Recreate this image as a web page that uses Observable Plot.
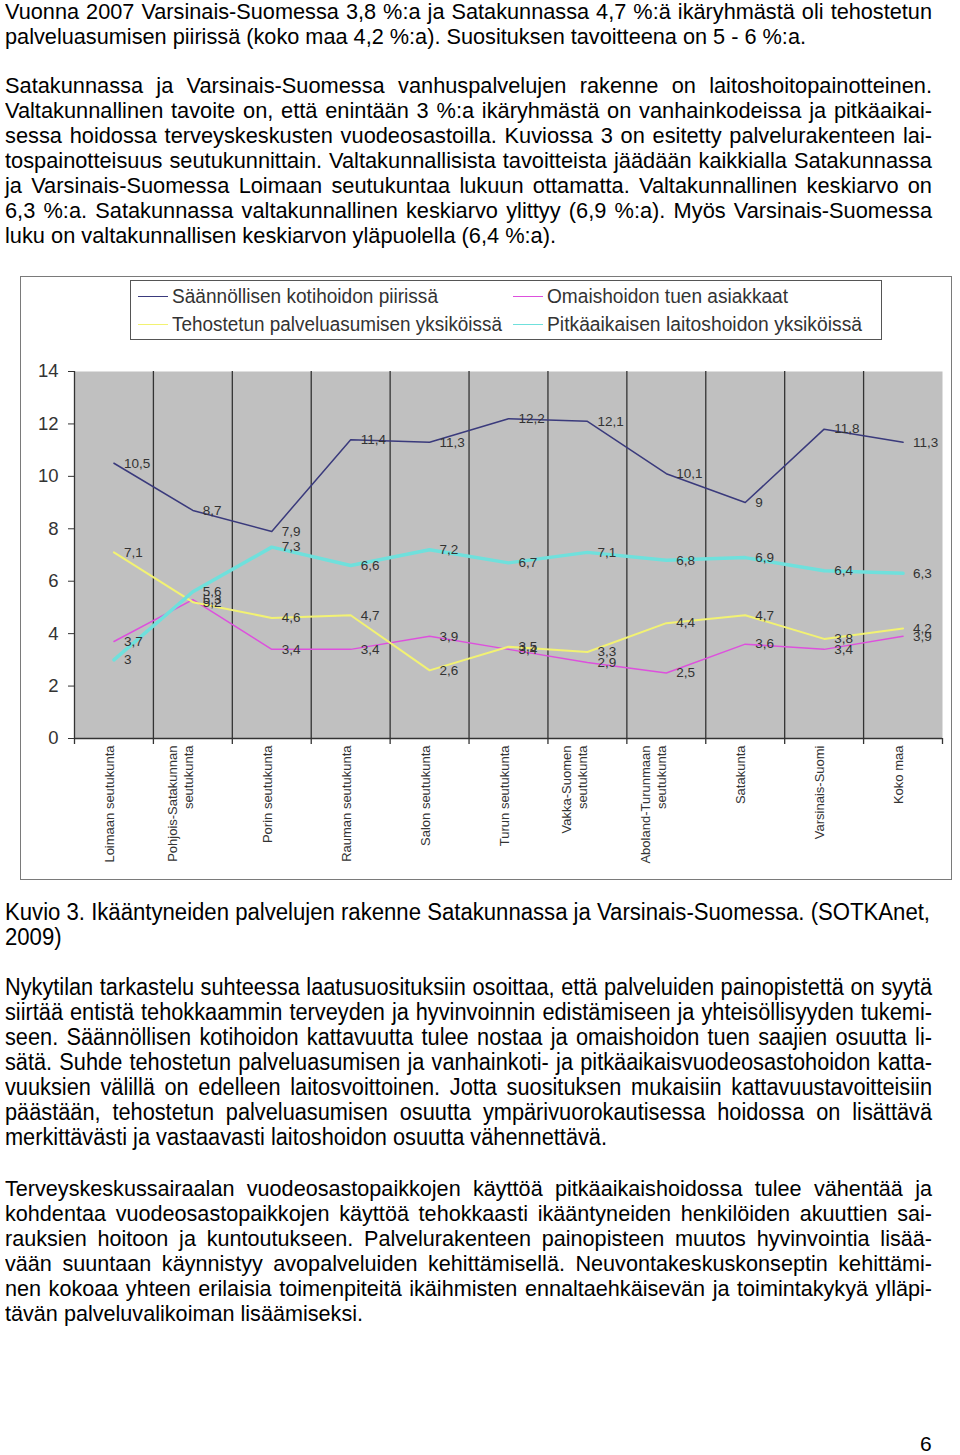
<!DOCTYPE html>
<html>
<head>
<meta charset="utf-8">
<script src="https://cdn.jsdelivr.net/npm/d3@7"></script>
<script src="https://cdn.jsdelivr.net/npm/@observablehq/plot@0.6"></script>
<style>
  body { margin: 0; background: #fff; }
  #page { position: relative; width: 960px; height: 1455px; overflow: hidden; font-family: "Liberation Sans", Arial, sans-serif; color: #000; }
  .ln { position: absolute; left: 5px; white-space: nowrap; font-size: 22px; line-height: 25px; transform-origin: 0 0; }
  .narrow { font-family: "Liberation Sans Narrow", "Liberation Sans", Arial, sans-serif; font-size: 23px; }
  #frame { position: absolute; left: 20px; top: 276px; width: 930px; height: 602px; border: 1px solid #7a7a7a; background: #fff; }
  #frame svg { display: block; }
  #legend { position: absolute; left: 130px; top: 280px; width: 752px; height: 60px; box-sizing: border-box; border: 1px solid #555; background: #fff; z-index: 2; }
  .lgline { position: absolute; height: 0; border-top: 1.5px solid; z-index: 3; }
  .lgtext { position: absolute; white-space: nowrap; font-size: 20px; line-height: 22px; color: #333; transform-origin: 0 0; z-index: 3; }
  #pagenum { position: absolute; left: 920px; font-size: 21px; line-height: 25px; }
</style>
</head>
<body>
<div id="page"></div>
<script>
// ---------- chart data ----------
const categories = [
  "Loimaan seutukunta",
  "Pohjois-Satakunnan\nseutukunta",
  "Porin seutukunta",
  "Rauman seutukunta",
  "Salon seutukunta",
  "Turun seutukunta",
  "Vakka-Suomen\nseutukunta",
  "Aboland-Turunmaan\nseutukunta",
  "Satakunta",
  "Varsinais-Suomi",
  "Koko maa"
];
const kotihoito     = [10.5, 8.7, 7.9, 11.4, 11.3, 12.2, 12.1, 10.1, 9, 11.8, 11.3];
const omaishoito    = [3.7, 5.3, 3.4, 3.4, 3.9, 3.4, 2.9, 2.5, 3.6, 3.4, 3.9];
const tehostettu    = [7.1, 5.2, 4.6, 4.7, 2.6, 3.5, 3.3, 4.4, 4.7, 3.8, 4.2];
const pitkaaikainen = [3, 5.6, 7.3, 6.6, 7.2, 6.7, 7.1, 6.8, 6.9, 6.4, 6.3];
const seriesNames = [
  "Säännöllisen kotihoidon piirissä",
  "Omaishoidon tuen asiakkaat",
  "Tehostetun palveluasumisen yksiköissä",
  "Pitkäaikaisen laitoshoidon yksiköissä"
];
const seriesColors = ["#3a3a7c", "#dd50dd", "#f2f272", "#6fe0dc"];
const seriesWidths = [1.5, 1.5, 2, 3.5];
const yTicks = [0, 2, 4, 6, 8, 10, 12, 14];

// ---------- page text ----------
const para1 = [
  "Vuonna 2007 Varsinais-Suomessa 3,8 %:a ja Satakunnassa 4,7 %:ä ikäryhmästä oli tehostetun",
  "palveluasumisen piirissä (koko maa 4,2 %:a). Suosituksen tavoitteena on 5 - 6 %:a."
];
const para2 = [
  "Satakunnassa ja Varsinais-Suomessa vanhuspalvelujen rakenne on laitoshoitopainotteinen.",
  "Valtakunnallinen tavoite on, että enintään 3 %:a ikäryhmästä on vanhainkodeissa ja pitkäaikai-",
  "sessa hoidossa terveyskeskusten vuodeosastoilla. Kuviossa 3 on esitetty palvelurakenteen lai-",
  "tospainotteisuus seutukunnittain. Valtakunnallisista tavoitteista jäädään kaikkialla Satakunnassa",
  "ja Varsinais-Suomessa Loimaan seutukuntaa lukuun ottamatta. Valtakunnallinen keskiarvo on",
  "6,3 %:a. Satakunnassa valtakunnallinen keskiarvo ylittyy (6,9 %:a). Myös Varsinais-Suomessa",
  "luku on valtakunnallisen keskiarvon yläpuolella (6,4 %:a)."
];
const caption = [
  "Kuvio 3. Ikääntyneiden palvelujen rakenne Satakunnassa ja Varsinais-Suomessa. (SOTKAnet,",
  "2009)"
];
const para3 = [
  "Nykytilan tarkastelu suhteessa laatusuosituksiin osoittaa, että palveluiden painopistettä on syytä",
  "siirtää entistä tehokkaammin terveyden ja hyvinvoinnin edistämiseen ja yhteisöllisyyden tukemi-",
  "seen. Säännöllisen kotihoidon kattavuutta tulee nostaa ja omaishoidon tuen saajien osuutta li-",
  "sätä. Suhde tehostetun palveluasumisen ja vanhainkoti- ja pitkäaikaisvuodeosastohoidon katta-",
  "vuuksien välillä on edelleen laitosvoittoinen. Jotta suosituksen mukaisiin kattavuustavoitteisiin",
  "päästään, tehostetun palveluasumisen osuutta ympärivuorokautisessa hoidossa on lisättävä",
  "merkittävästi ja vastaavasti laitoshoidon osuutta vähennettävä."
];
const para4 = [
  "Terveyskeskussairaalan vuodeosastopaikkojen käyttöä pitkäaikaishoidossa tulee vähentää ja",
  "kohdentaa vuodeosastopaikkojen käyttöä tehokkaasti ikääntyneiden henkilöiden akuuttien sai-",
  "rauksien hoitoon ja kuntoutukseen. Palvelurakenteen painopisteen muutos hyvinvointia lisää-",
  "vään suuntaan käynnistyy avopalveluiden kehittämisellä. Neuvontakeskuskonseptin kehittämi-",
  "nen kokoaa yhteen erilaisia toimenpiteitä ikäihmisten ennaltaehkäisevän ja toimintakykyä ylläpi-",
  "tävän palveluvalikoiman lisäämiseksi."
];

// ---------- layout ----------
const page = document.getElementById("page");
const FULL = 927;

function natural(el) { return el.getBoundingClientRect().width; }

function addParagraph(lines, firstBaseline, lastWidth, cls) {
  const els = lines.map((t, k) => {
    const el = document.createElement("div");
    el.className = "ln" + (cls ? " " + cls : "");
    el.textContent = t;
    el.style.top = (firstBaseline + 25 * k - 20) + "px";
    page.appendChild(el);
    return el;
  });
  const last = els[els.length - 1];
  let s = lastWidth / natural(last);
  if (s > 1.15) s = 1.15;
  if (s < 0.7) s = 0.7;
  els.forEach((el, k) => {
    const w = natural(el);
    if (k === els.length - 1) { el.style.transform = `scaleX(${s})`; return; }
    const spaces = (el.textContent.match(/ /g) || []).length;
    if (w * s >= FULL || spaces === 0) {
      el.style.transform = `scaleX(${FULL / w})`;
    } else {
      el.style.wordSpacing = ((FULL / s - w) / spaces) + "px";
      el.style.transform = `scaleX(${s})`;
    }
  });
}

addParagraph(para1, 19, 801);
addParagraph(para2, 93, 551);
addParagraph(para3, 995, 602, "narrow");
addParagraph(para4, 1196, 358);

// caption
(function () {
  const c1 = document.createElement("div");
  c1.className = "ln narrow"; c1.textContent = caption[0];
  c1.style.top = (920 - 20) + "px";
  page.appendChild(c1);
  const s = 925 / natural(c1);
  c1.style.transform = `scaleX(${s})`;
  const c2 = document.createElement("div");
  c2.className = "ln narrow"; c2.textContent = caption[1];
  c2.style.top = (945 - 20) + "px";
  c2.style.transform = `scaleX(${s})`;
  page.appendChild(c2);
})();

const pn = document.createElement("div");
pn.id = "pagenum"; pn.textContent = "6"; pn.style.top = (1451 - 20) + "px";
page.appendChild(pn);

// ---------- chart ----------
const n = categories.length;
const seriesValues = [kotihoito, omaishoito, tehostettu, pitkaaikainen];
const rows = [];
seriesValues.forEach((vals, k) => vals.forEach((v, i) => rows.push({i, v, k, name: seriesNames[k]})));
const fmt = v => String(v).replace(".", ",");

const chart = Plot.plot({
  width: 930,
  height: 602,
  marginLeft: 53,
  marginRight: 9,
  marginTop: 94,
  marginBottom: 141,
  style: {fontFamily: "Liberation Sans, Arial, sans-serif", fontSize: "18.5px", color: "#333", background: "#fff", overflow: "visible"},
  x: {type: "linear", domain: [-0.5, n - 0.5], axis: null},
  y: {domain: [0, 14], ticks: yTicks, tickSize: 6, tickPadding: 10, label: null, tickFormat: d => String(d)},
  marks: [
    Plot.frame({fill: "#c0c0c0", stroke: "none"}),
    Plot.ruleX(d3.range(0, n).map(k => k - 0.5), {stroke: "#333", strokeWidth: 1.3, insetBottom: -6}),
    Plot.ruleX([n - 0.5], {y1: 0, y2: 0, stroke: "#333", strokeWidth: 1.3, insetBottom: -6}),
    Plot.ruleY([0], {stroke: "#333", strokeWidth: 1.3}),
    ...seriesValues.map((vals, k) =>
      Plot.line(rows.filter(r => r.k === k), {x: "i", y: "v", stroke: seriesColors[k], strokeWidth: seriesWidths[k], curve: "linear"})
    ),
    Plot.text(rows, {x: "i", y: "v", text: d => fmt(d.v), dx: 10, textAnchor: "start", fontSize: 13.5, fill: "#333"}),
    Plot.text(categories, {x: (d, i) => i, frameAnchor: "bottom", rotate: -90, textAnchor: "end", dy: 7, fontSize: 13, fill: "#333", lineHeight: 1.25})
  ]
});

const frame = document.createElement("div");
frame.id = "frame";
frame.appendChild(chart);
page.appendChild(frame);

// legend (HTML, over the chart's top margin)
const legend = document.createElement("div");
legend.id = "legend";
page.appendChild(legend);
const legendPos = [
  {lx: 138, tx: 172, cy: 296, w: 266},
  {lx: 513, tx: 547, cy: 296, w: 241},
  {lx: 138, tx: 172, cy: 324, w: 330},
  {lx: 513, tx: 547, cy: 324, w: 315}
];
[0, 1, 2, 3].forEach((k, j) => {
  const p = legendPos[j];
  const ln = document.createElement("div");
  ln.className = "lgline";
  ln.style.left = p.lx + "px"; ln.style.width = "30px"; ln.style.top = p.cy + "px";
  ln.style.borderTopColor = seriesColors[k];
  page.appendChild(ln);
  const tx = document.createElement("div");
  tx.className = "lgtext narrow";
  tx.style.fontSize = "20px";
  tx.textContent = seriesNames[k];
  tx.style.left = p.tx + "px"; tx.style.top = (p.cy - 11) + "px";
  page.appendChild(tx);
  tx.style.transform = `scaleX(${p.w / natural(tx)})`;
});
</script>
</body>
</html>
